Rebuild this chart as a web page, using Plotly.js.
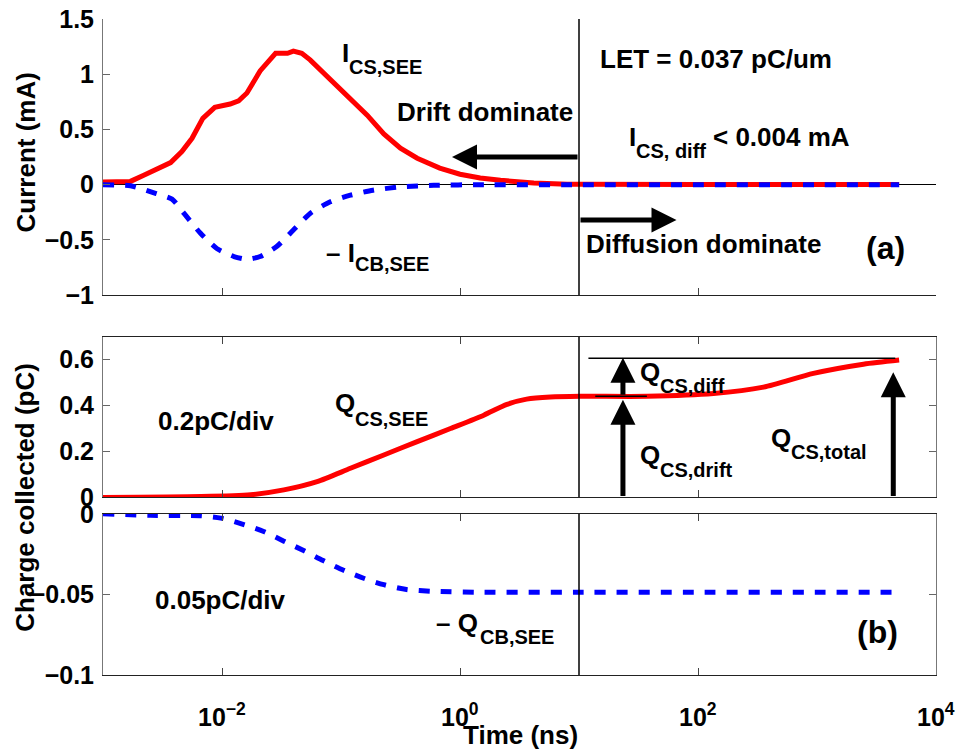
<!DOCTYPE html>
<html><head><meta charset="utf-8">
<script src="https://cdn.plot.ly/plotly-3.0.1.min.js"></script>
<style>html,body{margin:0;padding:0;background:#fff}#c{width:958px;height:749px}</style>
</head><body><div id="c"></div>
<script>
// (a) currents
const tIcs = [0.001,0.0017,0.0022,0.0037,0.0046,0.0056,0.0069,0.0087,0.0117,0.0138,0.0162,0.0209,0.0282,0.0355,0.0398,0.0468,0.055,0.0759,0.112,0.166,0.229,0.316,0.437,0.676,1.0,1.48,2.19,4.17,7.94,10,100,1000,4900];
const Ics  = [0.025,0.03,0.086,0.2,0.30,0.42,0.60,0.70,0.73,0.76,0.83,1.03,1.19,1.19,1.21,1.19,1.13,0.98,0.81,0.63,0.46,0.33,0.24,0.15,0.095,0.06,0.04,0.016,0.005,0.003,0.001,0.001,0.001];
const tIcb = [0.001,0.0017,0.0028,0.0038,0.0048,0.0066,0.0091,0.0126,0.0162,0.0209,0.0288,0.0398,0.055,0.0813,0.12,0.186,0.316,0.603,1.48,10,100,1000,4900];
const Icb  = [0,-0.01,-0.08,-0.13,-0.26,-0.44,-0.58,-0.65,-0.675,-0.65,-0.56,-0.41,-0.26,-0.155,-0.095,-0.05,-0.02,-0.005,0,0,0,0,0];
// (b) charges
const tQcs = [0.001,0.0066,0.0174,0.0331,0.063,0.12,0.229,0.437,0.832,1.585,2.48,3.63,5.75,10.2,37.2,135,355,933,2455,4900];
const Qcs  = [0,0.004,0.012,0.033,0.069,0.127,0.185,0.243,0.30,0.358,0.405,0.428,0.437,0.44,0.44,0.452,0.48,0.54,0.58,0.598];
const tQcb = [0.001,0.0025,0.0066,0.0098,0.0148,0.0224,0.0331,0.049,0.0708,0.105,0.155,0.229,0.355,0.562,1.585,10,100,1000,4900];
const Qcb  = [0,-0.001,-0.0012,-0.0027,-0.0064,-0.011,-0.017,-0.023,-0.029,-0.035,-0.040,-0.044,-0.047,-0.048,-0.0487,-0.0487,-0.0487,-0.0487,-0.0487];
// reference levels
const tSplit = 10;
const QdriftLevel = 0.44, QtotalLevel = 0.606;
const tDriftLine = [13.7, 37.2], tTotalLine = [12, 4550];
const xTickVals = [0.01, 1, 100, 10000];
const xTickText = ['10<sup>\u22122</sup>','10<sup>0</sup>','10<sup>2</sup>','10<sup>4</sup>'];
const yaTicks = [-1,-0.5,0,0.5,1,1.5];
const ybTicks = [0,0.2,0.4,0.6];
const ycTicks = [-0.1,-0.05,0];

const RED='#ff0000', BLUE='#0000ff';
const DASH='11px,11px';
const traces = [
  {x:tIcs,y:Ics,xaxis:'x3',yaxis:'y3',mode:'lines',line:{color:RED,width:5}},
  {x:tIcb,y:Icb,xaxis:'x3',yaxis:'y3',mode:'lines',line:{color:BLUE,width:5,dash:DASH,shape:'spline',smoothing:0.6}},
  {x:[tSplit,tSplit],y:[-1,1.5],xaxis:'x3',yaxis:'y3',mode:'lines',line:{color:'#000',width:1.5}},
  {x:tQcs,y:Qcs,xaxis:'x2',yaxis:'y2',mode:'lines',line:{color:RED,width:5,shape:'spline',smoothing:0.7}},
  {x:[tSplit,tSplit],y:[0,0.7],xaxis:'x2',yaxis:'y2',mode:'lines',line:{color:'#000',width:1.5}},
  {x:tTotalLine,y:[QtotalLevel,QtotalLevel],xaxis:'x2',yaxis:'y2',mode:'lines',line:{color:'#000',width:1.5}},
  {x:tDriftLine,y:[QdriftLevel,QdriftLevel],xaxis:'x2',yaxis:'y2',mode:'lines',line:{color:'#000',width:1.5}},
  {x:tQcb,y:Qcb,xaxis:'x',yaxis:'y',mode:'lines',line:{color:BLUE,width:5,dash:DASH,shape:'spline',smoothing:0.7}},
  {x:[tSplit,tSplit],y:[-0.1,0],xaxis:'x',yaxis:'y',mode:'lines',line:{color:'#000',width:1.5}}
];

const FAM='Liberation Sans, Arial, Helvetica, sans-serif';
const F = {family:FAM, size:26, color:'#000', weight:'bold'};
const FS = {family:FAM, size:20, color:'#000', weight:'bold'};
const FT = {family:FAM, size:25, color:'#000', weight:'bold'};
const FX = {family:FAM, size:25, color:'#000', weight:'bold'};
const FL = {family:FAM, size:32, color:'#000', weight:'bold'};
const xBase = {type:'log',range:[-3,4],tickvals:xTickVals,ticks:'inside',ticklen:7,tickcolor:'#444',
  showline:true,linecolor:'#222',linewidth:1,showgrid:false,zeroline:false,showticklabels:false};
const yBase = {ticks:'inside',ticklen:7,tickcolor:'#666',showline:true,linecolor:'#777',linewidth:1,showgrid:false,tickfont:FT,ticklabelstandoff:3};

// page-pixel helpers for text placement
const ML=103, MR=22, MT=19, MB=73.7, W=958, H=749;
const PX = p => (p-ML)/(W-ML-MR);
const PY = p => (H-MB-p)/(H-MT-MB);
function txt(text,px,py,font,extra){return Object.assign({text:text,x:PX(px),y:PY(py),xref:'paper',yref:'paper',showarrow:false,xanchor:'left',yanchor:'middle',font:font||F,borderpad:0},extra||{});}
function arrow(x,y,ax,ay,xref,yref){return {x:x,y:y,ax:ax,ay:ay,xref:xref,yref:yref,axref:xref,ayref:yref,text:'',showarrow:true,arrowhead:2,arrowsize:1.0,arrowwidth:5,arrowcolor:'#000'};}
const L = Math.log10;
const xLabels = xTickVals.map((v,i)=>({text:xTickText[i],x:L(v),y:PY(715),xref:'x',yref:'paper',showarrow:false,xanchor:'center',yanchor:'middle',font:FX,borderpad:0}));
const annotations = xLabels.concat([
  txt('I',340.5,53), txt('CS,SEE',347.5,67,FS),
  txt('Drift dominate',396,112),
  txt('LET = 0.037 pC/um',598.5,59.5),
  txt('I',628,137), txt('CS, diff',634.5,151,FS), txt('< 0.004 mA',711.5,137),
  txt('Diffusion dominate',584.5,244),
  txt('(a)',865,248.5,FL),
  txt('\u2013 I',325,253), txt('CB,SEE',354,264,FS),
  arrow(L(0.857),0.25,L(10),0.25,'x3','y3'),
  arrow(L(66),-0.32,L(10),-0.32,'x3','y3'),
  txt('0.2pC/div',156.5,421.5),
  txt('Q',333.5,403), txt('CS,SEE',354,419,FS),
  txt('Q',638.5,372.5), txt('CS,diff',659,386,FS),
  txt('Q',638.5,455.5), txt('CS,drift',659,470.5,FS),
  txt('Q',770,438), txt('CS,total',790,452.5,FS),
  arrow(L(23.4),0.425,L(23.4),0,'x2','y2'),
  arrow(L(23.4),0.608,L(23.4),0.44,'x2','y2'),
  arrow(L(4375),0.545,L(4375),0,'x2','y2'),
  txt('0.05pC/div',153.5,600),
  txt('\u2013 Q',435,623), txt('CB,SEE',478.5,637.5,FS),
  txt('(b)',855.5,632,FL),
  txt('Current (mA)',26,152.5,F,{textangle:-90,xanchor:'center'}),
  txt('Charge collected (pC)',25,498,F,{textangle:-90,xanchor:'center'}),
  txt('Time (ns)',520,735,F,{xanchor:'center'})
]);

const layout = {
  width:W,height:H,margin:{l:ML,r:MR,t:MT,b:MB},
  paper_bgcolor:'#fff',plot_bgcolor:'#fff',showlegend:false,font:F,
  xaxis:Object.assign({},xBase,{anchor:'y',mirror:'ticks'}),
  xaxis2:Object.assign({},xBase,{anchor:'y2',mirror:'ticks',matches:'x'}),
  xaxis3:Object.assign({},xBase,{anchor:'y3',matches:'x'}),
  yaxis:Object.assign({},yBase,{domain:[0,0.2458],range:[-0.1,0],tickvals:ycTicks,mirror:'ticks',zeroline:false}),
  yaxis2:Object.assign({},yBase,{domain:[0.2706,0.5159],range:[0,0.7],tickvals:ybTicks,mirror:'ticks',zeroline:false}),
  yaxis3:Object.assign({},yBase,{domain:[0.579,1],range:[-1,1.5],tickvals:yaTicks,zeroline:true,zerolinecolor:'#000',zerolinewidth:1}),
  annotations:annotations
};
Plotly.newPlot('c',traces,layout,{displayModeBar:false,staticPlot:true});
</script></body></html>
